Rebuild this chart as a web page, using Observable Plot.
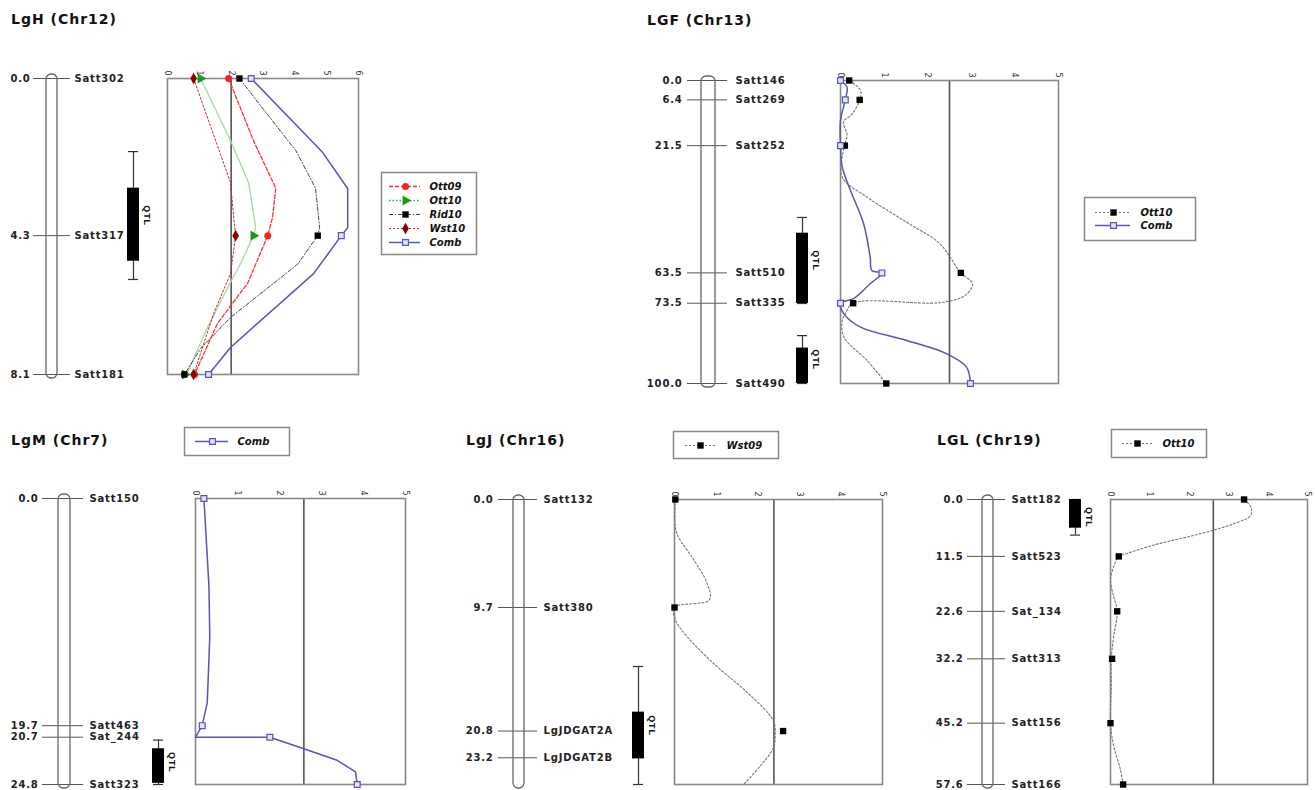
<!DOCTYPE html>
<html><head><meta charset="utf-8">
<script src="https://cdn.jsdelivr.net/npm/d3@7"></script>
<script src="https://cdn.jsdelivr.net/npm/@observablehq/plot@0.6"></script>
<style>
body{margin:0;background:#fff;}
#fig{position:relative;width:1315px;height:790px;overflow:hidden;background:#fff;}
#fig svg{position:absolute;left:0;top:0;}
.title{position:absolute;font:bold 14px "DejaVu Sans",sans-serif;letter-spacing:1px;line-height:1;color:#111;white-space:nowrap;}
</style></head><body><div id="fig"></div>
<script>
// ================= DATA =================
// ---- LgH (Chr12)
const H_title = "LgH (Chr12)";
const H_markers = ["Satt302", "Satt317", "Satt181"];
const H_cM = [0.0, 4.3, 8.1];
const H_len = 8.1;
const H_qtl = [[2.0, 3.0, 5.0, 5.5]];
const H_threshold = 2.0;
const H_ticks = [0, 1, 2, 3, 4, 5, 6];
const H_Ott09_cM = [0, 1.7, 3.0, 3.8, 4.3, 5.6, 6.7, 8.1];
const H_Ott09_lod = [1.92, 2.7, 3.4, 3.3, 3.15, 2.52, 1.57, 0.85];
const H_Ott09_pts = [1.92, 3.15, 0.85];
const H_Ott10_cM = [0, 1.7, 2.85, 4.08, 4.3, 5.06, 5.72, 6.81, 8.1];
const H_Ott10_lod = [1.04, 1.98, 2.55, 2.77, 2.7, 2.3, 1.89, 1.26, 0.6];
const H_Ott10_pts = [1.04, 2.7, 0.55];
const H_Rid10_cM = [0, 0.85, 1.97, 3.0, 4.08, 4.3, 5.08, 6.54, 7.39, 8.1];
const H_Rid10_lod = [2.26, 3.02, 4.03, 4.65, 4.78, 4.72, 4.09, 1.98, 1.04, 0.53];
const H_Rid10_pts = [2.26, 4.72, 0.53];
const H_Wst10_cM = [0, 2.85, 3.8, 4.3, 5.34, 6.43, 8.1];
const H_Wst10_lod = [0.82, 1.98, 2.08, 2.14, 1.98, 1.45, 0.82];
const H_Wst10_pts = [0.82, 2.14, 0.82];
const H_Comb_cM = [0, 2.02, 3.01, 4.08, 4.3, 5.34, 7.36, 8.1];
const H_Comb_lod = [2.63, 4.87, 5.66, 5.66, 5.46, 4.59, 1.98, 1.29];
const H_Comb_pts = [2.63, 5.46, 1.29];

// ---- LGF (Chr13)
const F_title = "LGF (Chr13)";
const F_markers = ["Satt146", "Satt269", "Satt252", "Satt510", "Satt335", "Satt490"];
const F_cM = [0.0, 6.4, 21.5, 63.5, 73.5, 100.0];
const F_len = 100;
const F_qtl = [[45.2, 50.4, 73.6, 73.6], [84.2, 88.3, 100, 100]];
const F_threshold = 2.5;
const F_ticks = [0, 1, 2, 3, 4, 5];
const F_Ott10_cM = [0, 3.3, 6.4, 11, 13.7, 18, 21.5, 31.9, 38.5, 46.8, 53.9, 63.5, 67.1, 71, 73.3, 73.5, 77, 79.2, 84.7, 92.4, 100];
const F_Ott10_lod = [0.21, 0.46, 0.44, 0.27, 0.07, 0.15, 0.09, 0.04, 0.61, 1.52, 2.28, 2.76, 3.03, 2.85, 2.28, 0.29, 0.11, 0.04, 0.08, 0.61, 1.05];
const F_Ott10_pts = [0.2, 0.44, 0.1, 2.76, 0.29, 1.05];
const F_Comb_cM = [0, 2.2, 6.4, 13.2, 21.5, 28.6, 36.3, 47.3, 58.3, 62.7, 63.5, 67.1, 72, 73.5, 77, 81.4, 85.8, 90.2, 94.6, 100];
const F_Comb_lod = [0, 0.15, 0.11, 0, 0, 0.04, 0.23, 0.53, 0.68, 0.72, 0.95, 0.68, 0.3, 0, 0.08, 0.46, 1.52, 2.44, 2.89, 2.98];
const F_Comb_pts = [0, 0.11, 0, 0.95, 0, 2.98];

// ---- LgM (Chr7)
const M_title = "LgM (Chr7)";
const M_markers = ["Satt150", "Satt463", "Sat_244", "Satt323"];
const M_cM = [0.0, 19.7, 20.7, 24.8];
const M_len = 24.8;
const M_qtl = [[20.95, 21.7, 24.7, 24.8]];
const M_threshold = 2.58;
const M_ticks = [0, 1, 2, 3, 4, 5];
const M_Comb_cM = [0, 7.6, 12, 17.7, 19.7, 20.7, 20.7, 21.7, 22.7, 23.7, 24.8];
const M_Comb_lod = [0.2, 0.32, 0.34, 0.28, 0.16, 0, 1.77, 2.58, 3.37, 3.81, 3.85];
const M_Comb_pts = [0.2, 0.16, 1.77, 3.85];

// ---- LgJ (Chr16)
const J_title = "LgJ (Chr16)";
const J_markers = ["Satt132", "Satt380", "LgJDGAT2A", "LgJDGAT2B"];
const J_cM = [0.0, 9.7, 20.8, 23.2];
const J_len = 25.6;
const J_qtl = [[15.0, 19.1, 23.3, 25.6]];
const J_threshold = 2.39;
const J_ticks = [0, 1, 2, 3, 4, 5];
const J_Wst09_cM = [0, 2.5, 3.4, 5.4, 7.5, 9.0, 9.7, 10.8, 12.3, 15.0, 17.3, 19.9, 21.2, 22.3, 23.9, 25.6];
const J_Wst09_lod = [0.02, 0.02, 0.1, 0.46, 0.78, 0.84, 0, 0.02, 0.3, 1.02, 1.74, 2.38, 2.42, 2.38, 2.07, 1.66];
const J_Wst09_ptsCM = [0.0, 9.7, 20.8];
const J_Wst09_pts = [0.02, 0, 2.61];

// ---- LGL (Chr19)
const L_title = "LGL (Chr19)";
const L_markers = ["Satt182", "Satt523", "Sat_134", "Satt313", "Satt156", "Satt166"];
const L_cM = [0.0, 11.5, 22.6, 32.2, 45.2, 57.6];
const L_len = 57.6;
const L_qtl = [[0, 0, 5.8, 7.2]];
const L_threshold = 2.61;
const L_ticks = [0, 1, 2, 3, 4, 5];
const L_Ott10_cM = [0, 1.5, 3.2, 4.9, 6.9, 9.2, 10.9, 11.5, 13.6, 16.3, 19.6, 22.6, 27.7, 32.2, 37.7, 45.2, 49.8, 54.5, 57.6];
const L_Ott10_lod = [3.39, 3.56, 3.56, 3.13, 2.29, 1.1, 0.42, 0.21, 0.08, 0, 0.08, 0.17, 0.08, 0.02, 0.02, 0, 0.08, 0.25, 0.32];
const L_Ott10_pts = [3.39, 0.21, 0.17, 0.04, 0, 0.32];

// ================= STYLES & LAYOUT =================
const W = 1315, H = 790;
const STY = {
  Ott09: {stroke: "#ff3030", dash: "4,2", width: 1.3, symbol: "circle", fill: "#ff1f1f", dotStroke: "none", r: 3.5},
  Ott10g: {stroke: "#a8d8a8", dash: null, legendStroke: "#3aa83a", legendDash: "1.5,2", width: 1.3, symbol: "triangle", fill: "#1a9a1a", dotStroke: "none", r: 3.8, rotate: 90},
  Rid10: {stroke: "#444", dash: "4,2,1,2", width: 1, symbol: "square", fill: "#000", dotStroke: "none", r: 3.6},
  Wst10: {stroke: "#b83030", dash: "2,2", width: 1, symbol: "diamond", fill: "#8b0000", dotStroke: "none", r: 3.5},
  Comb: {stroke: "#5555bb", dash: null, width: 1.5, symbol: "square", fill: "#e4e4f6", dotStroke: "#5555bb", r: 3.3},
  Black: {stroke: "#777", dash: "2,2", width: 1.1, symbol: "square", fill: "#000", dotStroke: "none", r: 3.6}
};
const LAY = {
  H: {title: [11, 12], y0: 78, y1: 374, cmRight: 30, tick: [33, 70], chrom: [46, 57], nameX: 74, qtlX: 133, x0: 167, x1: 358, curve: "linear",
      legend: {box: [381, 476, 172, 254], rows: [185, 242], line: [389, 420], sym: 405, text: 429}},
  F: {title: [647, 12.5], y0: 80, y1: 383, cmRight: 682, tick: [687, 727], chrom: [701, 715], nameX: 735, qtlX: 802, x0: 840, x1: 1058, curve: "catmull-rom",
      legend: {box: [1084, 1195, 197, 240], rows: [212, 225], line: [1095, 1130], sym: 1113, text: 1140}},
  M: {title: [11, 433], y0: 498, y1: 784, cmRight: 38, tick: [42, 83], chrom: [58, 70], nameX: 89, qtlX: 158, x0: 195, x1: 405, curve: "linear",
      legend: {box: [184, 289, 427, 455], rows: [441, 441], line: [195, 228], sym: 212, text: 237}},
  J: {title: [466, 433], y0: 499, y1: 784, cmRight: 493, tick: [498, 537], chrom: [513, 524], nameX: 543, qtlX: 638, x0: 674, x1: 882, curve: "catmull-rom",
      legend: {box: [673, 778, 431, 458], rows: [445, 445], line: [685, 717], sym: 700, text: 726}},
  L: {title: [937, 433], y0: 499, y1: 784, cmRight: 963, tick: [967, 1005], chrom: [982, 993], nameX: 1011, qtlX: 1075, x0: 1110, x1: 1307, curve: "catmull-rom",
      legend: {box: [1111, 1206, 429, 457], rows: [443, 443], line: [1122, 1153], sym: 1137, text: 1162}}
};

// ================= HELPERS =================
const fig = document.getElementById("fig");
const rows = (cs, ls) => cs.map((c, i) => ({cM: c, lod: ls[i]}));
function base(m, spacing) {
  return {
    width: W, height: H,
    marginLeft: m.l, marginRight: W - m.r, marginTop: m.t, marginBottom: H - m.b,
    style: {background: "transparent", fontFamily: "'DejaVu Sans', sans-serif", fontSize: "10px", overflow: "visible", letterSpacing: spacing || "0px"}
  };
}
function mapPlot(L, names, cMs, len, qtls) {
  const markers = names.map((name, i) => ({name, cM: cMs[i]}));
  const chrom = [{start: 0, end: len}];
  const q = qtls.map(([lo, b1, b2, hi]) => ({lo, b1, b2, hi, mid: (lo + hi) / 2}));
  return Plot.plot({
    ...base({l: 0, r: W, t: L.y0, b: L.y1}, "0.8px"),
    x: {domain: [0, W], axis: null},
    y: {domain: [0, len], reverse: true, axis: null},
    marks: [
      Plot.ruleY(markers, {y: "cM", x1: L.tick[0], x2: L.tick[1], stroke: "#555", strokeWidth: 1}),
      Plot.rect(chrom, {x1: L.chrom[0], x2: L.chrom[1], y1: "start", y2: "end", insetTop: -4, insetBottom: -4, rx: 5, fill: "none", stroke: "#666", strokeWidth: 1.3}),
      Plot.text(markers, {x: L.cmRight, y: "cM", text: d => d.cM.toFixed(1), textAnchor: "end", fontWeight: "bold", fill: "#222"}),
      Plot.text(markers, {x: L.nameX, y: "cM", text: "name", textAnchor: "start", fontWeight: "bold", fill: "#222"}),
      Plot.ruleX(q, {x: L.qtlX, y1: "lo", y2: "hi", stroke: "#333", strokeWidth: 1.2}),
      Plot.ruleY(q, {y: "lo", x1: L.qtlX - 5, x2: L.qtlX + 5, stroke: "#333", strokeWidth: 1.2}),
      Plot.ruleY(q, {y: "hi", x1: L.qtlX - 5, x2: L.qtlX + 5, stroke: "#333", strokeWidth: 1.2}),
      Plot.rect(q, {x1: L.qtlX - 6, x2: L.qtlX + 6, y1: "b1", y2: "b2", fill: "#000"}),
      Plot.text(q, {x: L.qtlX + 13, y: "mid", text: () => "QTL", rotate: 90, fontWeight: "bold", fontSize: 9, fill: "#111", fontFamily: "'Liberation Sans', Arial, sans-serif"})
    ]
  });
}
function lodPlot(L, len, ticks, thr, series) {
  return Plot.plot({
    ...base({l: L.x0, r: L.x1, t: L.y0, b: L.y1}),
    x: {domain: [0, ticks[ticks.length - 1]]},
    y: {domain: [0, len], reverse: true, axis: null},
    marks: [
      Plot.ruleX([thr], {stroke: "#555", strokeWidth: 1.6}),
      Plot.frame({stroke: "#888", strokeWidth: 1.6}),
      Plot.axisX({anchor: "top", ticks, tickFormat: d3.format("d"), tickRotate: 90, tickSize: 0, tickPadding: 3, fontSize: 8, label: null, fill: "#333"}),
      ...series.map(s => Plot.line(rows(s.cM, s.lod), {x: "lod", y: "cM", stroke: s.sty.stroke, strokeWidth: s.sty.width, strokeDasharray: s.sty.dash, curve: L.curve})),
      ...series.map(s => Plot.dot(rows(s.ptCM, s.pts), {x: "lod", y: "cM", symbol: s.sty.symbol, fill: s.sty.fill, stroke: s.sty.dotStroke, strokeWidth: 1.2, r: s.sty.r, rotate: s.sty.rotate || 0}))
    ]
  });
}
function legendPlot(G, series) {
  return Plot.plot({
    ...base({l: G.box[0], r: G.box[1], t: G.box[2], b: G.box[3]}),
    x: {domain: [0, W], range: [0, W], axis: null},
    y: {type: "point", padding: 0, domain: series.map(s => s.name), range: G.rows, axis: null},
    marks: [
      Plot.frame({stroke: "#888", strokeWidth: 1.5}),
      ...series.map(s => Plot.ruleY([s.name], {y: d => d, x1: G.line[0], x2: G.line[1], stroke: s.sty.legendStroke || s.sty.stroke, strokeWidth: s.sty.width, strokeDasharray: s.sty.legendDash || s.sty.dash || "none"})),
      ...series.map(s => Plot.dot([s.name], {x: G.sym, y: d => d, symbol: s.sty.symbol, fill: s.sty.fill, stroke: s.sty.dotStroke, strokeWidth: 1.2, r: s.sty.r, rotate: s.sty.rotate || 0})),
      Plot.text(series, {x: G.text, y: "name", text: "name", textAnchor: "start", fontWeight: "bold", fontStyle: "italic", fill: "#111"})
    ]
  });
}
function panel(L, title, names, cMs, len, qtls, ticks, thr, series) {
  const t = document.createElement("div");
  t.className = "title"; t.textContent = title;
  t.style.left = L.title[0] + "px"; t.style.top = L.title[1] + "px";
  fig.appendChild(t);
  fig.appendChild(mapPlot(L, names, cMs, len, qtls));
  fig.appendChild(lodPlot(L, len, ticks, thr, series));
  fig.appendChild(legendPlot(L.legend, series));
}

// ================= PANELS =================
panel(LAY.H, H_title, H_markers, H_cM, H_len, H_qtl, H_ticks, H_threshold, [
  {name: "Ott09", cM: H_Ott09_cM, lod: H_Ott09_lod, ptCM: H_cM, pts: H_Ott09_pts, sty: STY.Ott09},
  {name: "Ott10", cM: H_Ott10_cM, lod: H_Ott10_lod, ptCM: H_cM, pts: H_Ott10_pts, sty: STY.Ott10g},
  {name: "Rid10", cM: H_Rid10_cM, lod: H_Rid10_lod, ptCM: H_cM, pts: H_Rid10_pts, sty: STY.Rid10},
  {name: "Wst10", cM: H_Wst10_cM, lod: H_Wst10_lod, ptCM: H_cM, pts: H_Wst10_pts, sty: STY.Wst10},
  {name: "Comb", cM: H_Comb_cM, lod: H_Comb_lod, ptCM: H_cM, pts: H_Comb_pts, sty: STY.Comb}
]);
panel(LAY.F, F_title, F_markers, F_cM, F_len, F_qtl, F_ticks, F_threshold, [
  {name: "Ott10", cM: F_Ott10_cM, lod: F_Ott10_lod, ptCM: F_cM, pts: F_Ott10_pts, sty: STY.Black},
  {name: "Comb", cM: F_Comb_cM, lod: F_Comb_lod, ptCM: F_cM, pts: F_Comb_pts, sty: STY.Comb}
]);
panel(LAY.M, M_title, M_markers, M_cM, M_len, M_qtl, M_ticks, M_threshold, [
  {name: "Comb", cM: M_Comb_cM, lod: M_Comb_lod, ptCM: M_cM, pts: M_Comb_pts, sty: STY.Comb}
]);
panel(LAY.J, J_title, J_markers, J_cM, J_len, J_qtl, J_ticks, J_threshold, [
  {name: "Wst09", cM: J_Wst09_cM, lod: J_Wst09_lod, ptCM: J_Wst09_ptsCM, pts: J_Wst09_pts, sty: STY.Black}
]);
panel(LAY.L, L_title, L_markers, L_cM, L_len, L_qtl, L_ticks, L_threshold, [
  {name: "Ott10", cM: L_Ott10_cM, lod: L_Ott10_lod, ptCM: L_cM, pts: L_Ott10_pts, sty: STY.Black}
]);
</script></body></html>
